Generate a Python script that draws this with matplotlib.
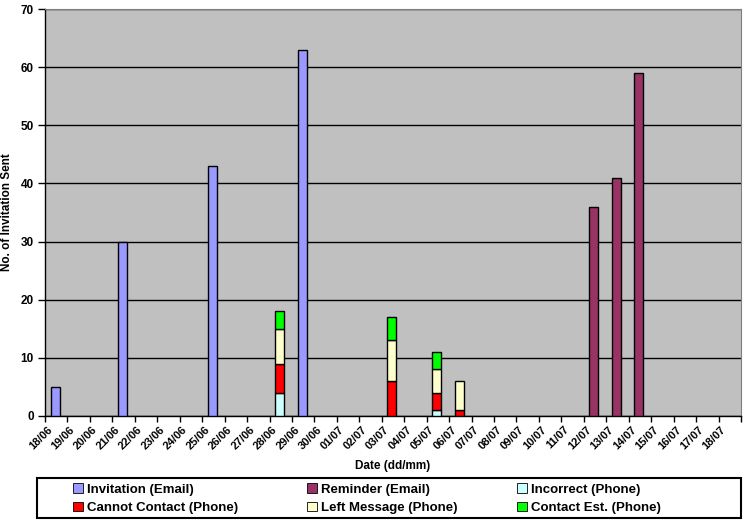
import numpy as np
import matplotlib.pyplot as plt
from matplotlib.patches import Patch, Rectangle

plt.rcParams['font.family'] = ['Liberation Sans', 'DejaVu Sans']

dates = ['18/06', '19/06', '20/06', '21/06', '22/06', '23/06', '24/06', '25/06',
         '26/06', '27/06', '28/06', '29/06', '30/06', '01/07', '02/07', '03/07',
         '04/07', '05/07', '06/07', '07/07', '08/07', '09/07', '10/07', '11/07',
         '12/07', '13/07', '14/07', '15/07', '16/07', '17/07', '18/07']

invitation = {'18/06': 5, '21/06': 30, '25/06': 43, '29/06': 63}
reminder = {'12/07': 36, '13/07': 41, '14/07': 59}
incorrect = {'28/06': 4, '05/07': 1}
cannot_contact = {'28/06': 5, '03/07': 6, '05/07': 3, '06/07': 1}
left_message = {'28/06': 6, '03/07': 7, '05/07': 4, '06/07': 5}
contact_est = {'28/06': 3, '03/07': 4, '05/07': 3}

series = [
    ('Invitation (Email)', invitation, '#9999FF'),
    ('Reminder (Email)', reminder, '#993366'),
    ('Incorrect (Phone)', incorrect, '#CCFFFF'),
    ('Cannot Contact (Phone)', cannot_contact, '#FF0000'),
    ('Left Message (Phone)', left_message, '#FFFFCC'),
    ('Contact Est. (Phone)', contact_est, '#00FF00'),
]

W, H = 745, 523
fig = plt.figure(figsize=(W/100, H/100), dpi=100)
ax = fig.add_axes([45/W, 107/H, 696/W, 407/H])
ax.set_facecolor('#C0C0C0')

x = np.arange(len(dates)) + 0.45
bottom = np.zeros(len(dates))
handles = []
for name, d, col in series:
    vals = np.array([d.get(k, 0) for k in dates], dtype=float)
    mask = vals > 0
    ax.bar(x[mask], vals[mask], width=0.4, bottom=bottom[mask], color=col,
           edgecolor='black', linewidth=1, zorder=3)
    # phone outcomes stack on top of each other
    if name.endswith('(Phone)'):
        bottom += vals
    handles.append(Patch(facecolor=col, edgecolor='black', linewidth=0.6, label=name))

ax.set_xlim(0, len(dates))
ax.set_ylim(0, 70)
ax.set_yticks(range(0, 71, 10))
ax.yaxis.grid(True, color='black', linewidth=1, zorder=0)
ax.set_axisbelow(True)
ax.set_xticks(np.arange(len(dates) + 1))
ax.set_xticklabels([])
ax.set_xticks(np.arange(len(dates)) + 0.1, minor=True)
ax.set_xticklabels(dates, minor=True, rotation=45, ha='right', rotation_mode='anchor',
                   fontsize=8, fontweight='bold')
ax.tick_params(axis='x', which='minor', length=0, pad=6)
ax.tick_params(axis='x', which='major', length=4, width=1, direction='out')
ax.tick_params(axis='y', length=5, width=1, labelsize=8.5, pad=3)
for lab in ax.get_yticklabels():
    lab.set_fontweight('bold')
for s in ['top', 'right']:
    ax.spines[s].set_color('#808080')
for s in ['left', 'bottom']:
    ax.spines[s].set_linewidth(1)

ax.set_ylabel('No. of Invitation Sent', fontsize=8.5, fontweight='bold')
ax.yaxis.set_label_coords(-32/696, 0.5)
ax.set_xlabel('Date (dd/mm)', fontsize=8.5, fontweight='bold', labelpad=6)

# legend box with three columns
fig.patches.append(Rectangle((37/W, 5/H), 704/W, 40/H, transform=fig.transFigure,
                             facecolor='white', edgecolor='black', linewidth=1.5))
col_x = [72, 306, 516]
for c in range(3):
    fig.legend([handles[c], handles[c + 3]], [handles[c].get_label(), handles[c + 3].get_label()],
               loc='upper left', bbox_to_anchor=(col_x[c]/W, (H - 482)/H),
               prop={'size': 9.5, 'weight': 'bold'}, frameon=False,
               handlelength=0.7, handleheight=0.7, handletextpad=0.3,
               borderaxespad=0, borderpad=0.1, labelspacing=0.5)

fig.savefig('out.png', dpi=100, facecolor='white')
